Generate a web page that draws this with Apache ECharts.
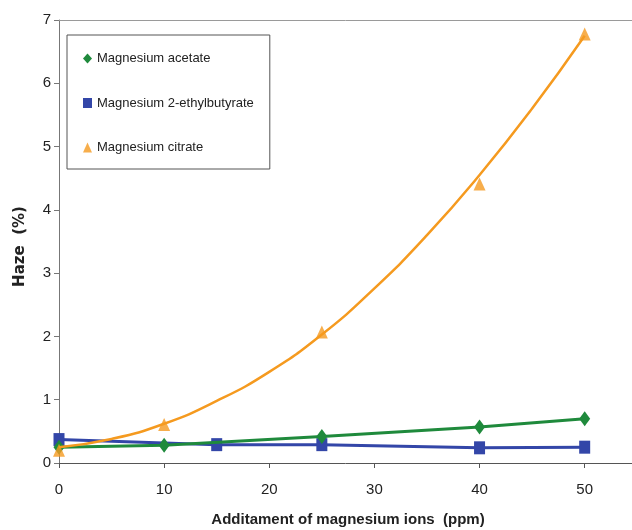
<!DOCTYPE html>
<html>
<head>
<meta charset="utf-8">
<script src="https://cdn.jsdelivr.net/npm/echarts@6/dist/echarts.min.js"></script>
<style>html,body{margin:0;padding:0;background:#fff}#c{width:632px;height:530px}</style>
</head>
<body>
<div id="c"></div>
<script>
// Data
const acetateX = [0, 10, 25, 40, 50];
const acetateY = [0.25, 0.28, 0.42, 0.57, 0.70];
const ethylbutyrateX = [0, 15, 25, 40, 50];
const ethylbutyrateY = [0.37, 0.29, 0.29, 0.24, 0.25];
const citrateX = [0, 10, 25, 40, 50];
const citrateY = [0.20, 0.61, 2.07, 4.41, 6.78];
// Trend curve for citrate
const citrateTrendX = [0, 5, 10, 15, 20, 25, 30, 35, 40, 45, 50];
const citrateTrendY = [0.25, 0.38, 0.62, 0.98, 1.44, 2.03, 2.76, 3.60, 4.55, 5.60, 6.75];
const yTicks = [0, 1, 2, 3, 4, 5, 6, 7];
const xTicks = [0, 10, 20, 30, 40, 50];

const names = ['Magnesium acetate', 'Magnesium 2-ethylbutyrate', 'Magnesium citrate'];
const xTitle = 'Additament of magnesium ions  (ppm)';
const yTitle = 'Haze  (%)';
const GREEN = '#1f8a3c', BLUE = '#3346a8', ORANGE = '#f59a1f';
const zip = (xs, ys) => xs.map((x, i) => [x, ys[i]]);
const FONT = '"Liberation Sans", Arial, sans-serif';

const chart = echarts.init(document.getElementById('c'));
chart.setOption({
  animation: false,
  backgroundColor: '#fff',
  grid: { left: 59, top: 20, bottom: 67, right: 0, show: false, containLabel: false },
  legend: {
    orient: 'vertical', left: 67, top: 35,
    padding: [17, 16, 15, 16],
    itemGap: 31.5, itemWidth: 9, itemHeight: 10,
    borderColor: '#555', borderWidth: 1,
    textStyle: { fontFamily: FONT, fontSize: 13, color: '#222' },
    data: [
      { name: names[0], icon: 'diamond' },
      { name: names[1], icon: 'rect' },
      { name: names[2], icon: 'triangle' }
    ]
  },
  graphic: [
    { type: 'text', x: 348, y: 512,
      style: { text: xTitle, align: 'center', verticalAlign: 'top', fontFamily: FONT, fontSize: 15, fontWeight: 'bold', fill: '#222' }, z: 10 }
  ],
  xAxis: [{
    type: 'value', min: 0, max: 54.5, interval: 10,
    axisLine: { show: true, lineStyle: { color: '#555', width: 1 } },
    axisTick: { show: true, length: 5, lineStyle: { color: '#555' }, customValues: xTicks },
    axisLabel: { fontFamily: FONT, fontSize: 15, color: '#222', margin: 19, customValues: xTicks },
    splitLine: { show: false }
  }, {
    type: 'value', position: 'top', min: 0, max: 54.5,
    axisLine: { show: true, lineStyle: { color: '#9a9a9a', width: 1 } },
    axisTick: { show: false }, axisLabel: { show: false }, splitLine: { show: false }
  }],
  yAxis: {
    type: 'value', min: 0, max: 7, interval: 1,
    name: yTitle, nameLocation: 'middle', nameGap: 31, nameRotate: 90,
    nameTextStyle: { fontFamily: '"DejaVu Sans", sans-serif', fontSize: 15, fontWeight: 'bold', color: '#222', padding: [0, 10, 0, 0] },
    axisLine: { show: true, lineStyle: { color: '#777', width: 1 } },
    axisTick: { show: true, length: 5, lineStyle: { color: '#777' } },
    axisLabel: { fontFamily: FONT, fontSize: 15, color: '#222', margin: 8, formatter: v => yTicks.includes(v) ? String(v) : '' },
    splitLine: { show: false }
  },
  series: [
    {
      name: names[1], type: 'line', data: zip(ethylbutyrateX, ethylbutyrateY),
      symbol: 'rect', symbolSize: [11, 13], lineStyle: { color: BLUE, width: 3 }, itemStyle: { color: BLUE }, z: 2
    },
    {
      name: names[0], type: 'line', data: zip(acetateX, acetateY),
      symbol: 'diamond', symbolSize: [11, 15], lineStyle: { color: GREEN, width: 3 }, itemStyle: { color: GREEN }, z: 3
    },
    {
      name: 'citrate trend', type: 'line', data: zip(citrateTrendX, citrateTrendY),
      smooth: true, showSymbol: false, symbol: 'none', lineStyle: { color: ORANGE, width: 2.5 }, z: 4
    },
    {
      name: names[2], type: 'scatter', data: zip(citrateX, citrateY),
      symbol: 'triangle', symbolSize: [12, 13], itemStyle: { color: ORANGE }, z: 5
    }
  ]
});
</script>
</body>
</html>
